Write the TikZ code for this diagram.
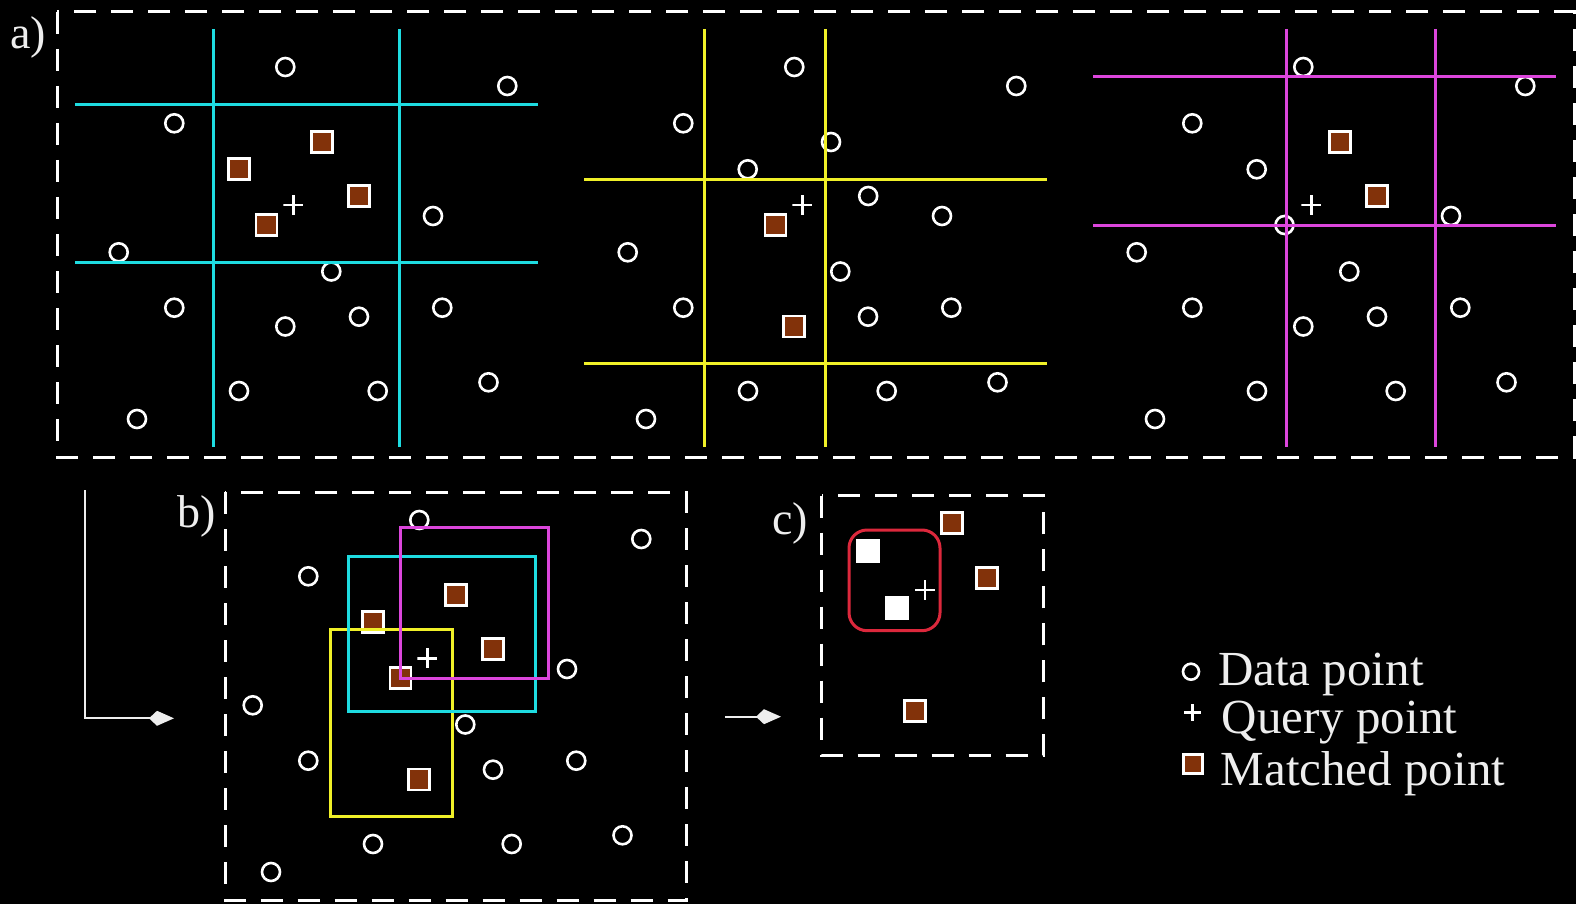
\documentclass[tikz,border=0pt]{standalone}
\usepackage{fontspec}
\setmainfont{Liberation Serif}
\usetikzlibrary{arrows.meta}
\definecolor{cyanl}{RGB}{30,220,225}
\definecolor{yell}{RGB}{240,240,40}
\definecolor{magl}{RGB}{220,70,220}
\definecolor{brownm}{RGB}{130,50,10}
\definecolor{redsel}{RGB}{220,40,60}
\definecolor{labelc}{RGB}{238,238,238}
\tikzset{
 datapt/.style={circle, draw=white, line width=2.6pt, minimum size=18pt, inner sep=0pt},
 matchpt/.style={rectangle, draw=white, fill=brownm, line width=2.8pt, minimum size=21pt, inner sep=0pt},
 selpt/.style={rectangle, fill=white, minimum size=24pt, inner sep=0pt},
 querypt/.style={rectangle, minimum size=20pt, inner sep=0pt, path picture={\draw[white, line width=2.4pt] (path picture bounding box.west) -- (path picture bounding box.east) (path picture bounding box.north) -- (path picture bounding box.south);}},
 frame/.style={draw=white, line width=3pt, dash pattern=on 22pt off 15pt},
 gridl/.style={line width=3pt},
 winbox/.style={line width=3pt},
 flow/.style={draw=labelc, line width=2pt, -{Kite[length=25pt,width=15pt,inset=8pt]}},
 lab/.style={text=labelc, font=\fontsize{46}{50}\selectfont, inner sep=0pt},
 legtext/.style={text=labelc, font=\fontsize{49}{53}\selectfont, inner sep=0pt, anchor=base west},
}
\def\ptlist{1/285.3/67/datapt/datapt/datapt/datapt,
2/507.3/86/datapt/datapt/datapt/datapt,
3/174.3/123.3/datapt/datapt/datapt/datapt,
4/238.7/169.3/matchpt/datapt/datapt/matchpt,
5/322/142/matchpt/datapt/matchpt/matchpt,
6/359.2/196/matchpt/datapt/matchpt/matchpt,
7/433/216/datapt/datapt/datapt/datapt,
8/266.5/225/matchpt/matchpt/datapt/matchpt,
9/118.7/252.3/datapt/datapt/datapt/datapt,
10/331.3/271.5/datapt/datapt/datapt/datapt,
11/174.3/307.7/datapt/datapt/datapt/datapt,
12/442.3/307.7/datapt/datapt/datapt/datapt,
13/285.3/326.5/datapt/matchpt/datapt/matchpt,
14/359/316.7/datapt/datapt/datapt/datapt,
15/239/391/datapt/datapt/datapt/datapt,
16/377.7/391/datapt/datapt/datapt/datapt,
17/488.5/382.3/datapt/datapt/datapt/datapt,
18/137/419/datapt/datapt/datapt/datapt}
\begin{document}
\begin{tikzpicture}[x=1pt,y=-1pt]
\fill[black] (0,0) rectangle (1576,904);
\useasboundingbox (0,0) rectangle (1576,904);

% ---------- panel a ----------
\draw[frame] (57,12) rectangle (1574,457);
\node[lab] (la) at (28,37) {a)};

% a1 (cyan)
\foreach \n/\x/\y/\ta/\tb/\tc/\td in \ptlist {\node[\ta] (a1p\n) at (\x,\y) {};}
\node[querypt] (a1q) at (293.3,205.3) {};
\draw[gridl,cyanl] (213.3,29) -- (213.3,447) (399.3,29) -- (399.3,447)
  (75,104.3) -- (538,104.3) (75,262.7) -- (538,262.7);

% a2 (yellow)
\begin{scope}[shift={(509,0)}]
\foreach \n/\x/\y/\ta/\tb/\tc/\td in \ptlist {\node[\tb] (a2p\n) at (\x,\y) {};}
\node[querypt] (a2q) at (293.3,205.3) {};
\end{scope}
\draw[gridl,yell] (704.3,29) -- (704.3,447) (825,29) -- (825,447)
  (584,179.3) -- (1047,179.3) (584,363.3) -- (1047,363.3);

% a3 (magenta)
\begin{scope}[shift={(1018,0)}]
\foreach \n/\x/\y/\ta/\tb/\tc/\td in \ptlist {\node[\tc] (a3p\n) at (\x,\y) {};}
\node[querypt] (a3q) at (293.3,205.3) {};
\end{scope}
\draw[gridl,magl] (1286.7,29) -- (1286.7,447) (1435,29) -- (1435,447)
  (1093.3,76.7) -- (1556,76.7) (1093.3,225) -- (1556,225);

% ---------- panel b ----------
\draw[frame] (225,492.3) rectangle (686.7,900.7);
\node[lab] (lb) at (196.7,516.7) {b)};
\begin{scope}[shift={(134,453)}]
\foreach \n/\x/\y/\ta/\tb/\tc/\td in \ptlist {\node[\td] (bp\n) at (\x,\y) {};}
\node[querypt] (bq) at (293.3,205.3) {};
\end{scope}
\draw[winbox,yell] (330.3,629.3) rectangle (452.3,816);
\draw[winbox,cyanl] (348.3,556) rectangle (535.3,711.7);
\draw[winbox,magl] (400,527) rectangle (548.3,678.3);

% ---------- panel c ----------
\draw[frame] (821.7,495.7) rectangle (1043.3,755.7);
\node[lab] (lc) at (790,523.3) {c)};
\node[draw=redsel, line width=3pt, rounded corners=18pt, minimum width=91pt, minimum height=100.7pt, inner sep=0pt] (csel) at (894.5,580.35) {};
\node[selpt] (cp4) at (868.3,551) {};
\node[selpt] (cp8) at (896.7,608.3) {};
\node[querypt] (cq) at (925,590) {};
\node[matchpt] (cp5) at (951.7,523.3) {};
\node[matchpt] (cp6) at (987.3,577.7) {};
\node[matchpt] (cp13) at (915.3,710.7) {};

% ---------- arrows ----------
\coordinate (f1s) at (85,490);
\coordinate (f1e) at (174,718.3);
\draw[flow] (f1s) |- (f1e);
\coordinate (f2s) at (725,716.7);
\coordinate (f2e) at (781,716.7);
\draw[flow] (f2s) -- (f2e);

% ---------- legend ----------
\node[datapt, minimum size=16pt, line width=2.6pt] (lg1) at (1191,671.7) {};
\node[legtext] (lt1) at (1218,685) {Data point};
\node[querypt, minimum size=17pt] (lg2) at (1192.5,712.5) {};
\node[legtext] (lt2) at (1221.5,733) {Query point};
\node[matchpt, minimum size=19.5pt, line width=2.6pt] (lg3) at (1193,764) {};
\node[legtext] (lt3) at (1220.5,785) {Matched point};
\end{tikzpicture}
\end{document}
